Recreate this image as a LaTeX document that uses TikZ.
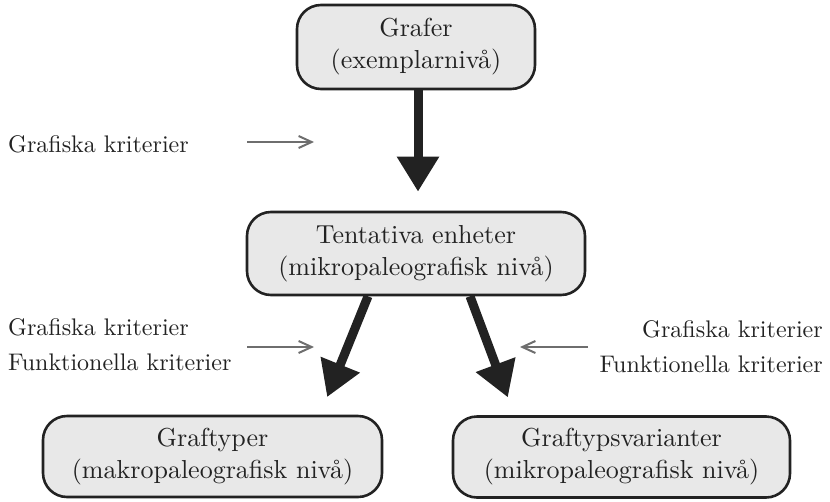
\documentclass[tikz,border=0pt]{standalone}
\usepackage{fontspec}
\setmainfont{lmroman10-regular}[Extension=.otf]
\usetikzlibrary{arrows.meta}
\definecolor{boxfill}{HTML}{E8E8E8}
\definecolor{inkdark}{HTML}{222222}
\definecolor{pointer}{HTML}{6E6E6E}
\tikzset{
  levelbox/.style={draw=inkdark, fill=boxfill, line width=2.6pt, rounded corners=24pt,
    inner sep=0pt, align=center, text=inkdark, font=\fontsize{26}{32}\selectfont},
  bigarrow/.style={draw=inkdark, line width=9pt,
    -{Triangle[length=35pt,width=40pt]}},
  sidelabel/.style={inner sep=0pt, text=inkdark, font=\fontsize{24}{30}\selectfont},
  hint/.style={draw=pointer, line width=2pt,
    -{Straight Barb[length=13pt,width=12pt,line width=2pt]}}
}
\begin{document}
\begin{tikzpicture}[x=1pt,y=-1pt]
\useasboundingbox (0,0) rectangle (830,501);

% level boxes
\node[levelbox, minimum width=238pt, minimum height=84pt] (grafer) at (416,47)
  {Grafer\\(exemplarnivå)};
\node[levelbox, minimum width=338pt, minimum height=83pt] (tent) at (416,253.5)
  {Tentativa enheter\\(mikropaleografisk nivå)};
\node[levelbox, minimum width=339pt, minimum height=81pt] (typer) at (212.5,456.5)
  {Graftyper\\(makropaleografisk nivå)};
\node[levelbox, minimum width=337pt, minimum height=81pt] (varianter) at (621.5,457)
  {Graftypsvarianter\\(mikropaleografisk nivå)};

% main arrows between levels
\draw[bigarrow, shorten >=19pt] ([xshift=2pt]grafer.south) -- ([xshift=2pt]tent.north);
\draw[bigarrow, shorten >=19pt] ([xshift=-48pt]tent.south) -- ([xshift=107.5pt]typer.north);
\draw[bigarrow, shorten >=19pt] ([xshift=54pt]tent.south) -- ([xshift=-107pt]varianter.north);

% criteria labels
\node[sidelabel, anchor=base west] (k1) at (8,152) {Grafiska kriterier};
\node[sidelabel, anchor=base west] (k2) at (8,335) {Grafiska kriterier};
\node[sidelabel, anchor=base west] (k3) at (8,370) {Funktionella kriterier};
\node[sidelabel, anchor=base east] (k4) at (823,337) {Grafiska kriterier};
\node[sidelabel, anchor=base east] (k5) at (823,372) {Funktionella kriterier};

% small pointers
\coordinate (p1a) at (247,142); \coordinate (p1b) at (314,142);
\coordinate (p2a) at (247,347); \coordinate (p2b) at (314,347);
\coordinate (p3a) at (588,347); \coordinate (p3b) at (520,347);
\draw[hint] (p1a) -- (p1b);
\draw[hint] (p2a) -- (p2b);
\draw[hint] (p3a) -- (p3b);
\end{tikzpicture}
\end{document}
